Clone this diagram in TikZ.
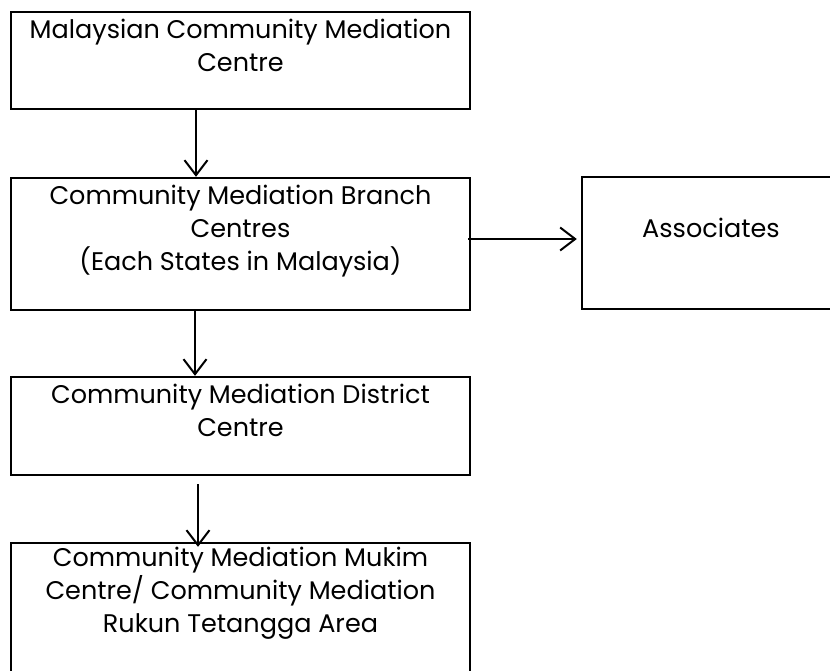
\documentclass[tikz,border=0pt]{standalone}
\usepackage{fontspec}
\setmainfont{Poppins}
\usetikzlibrary{arrows.meta}

\tikzset{
  unit/.style={draw, line width=2.4pt, inner sep=0pt, minimum width=459pt},
  unittext/.style={anchor=north, align=center, inner sep=0pt, font=\fontsize{25.5}{33}\selectfont},
  flow/.style={line width=2pt, -{Straight Barb[length=15pt,width=23pt]}}
}

\begin{document}
\begin{tikzpicture}[x=1pt,y=-1pt]
        \useasboundingbox (0,0) rectangle (830,670);
        % boxes of the hierarchy
        \node[unit, minimum height=97pt] (mcmc) at (240.5,60.5) {};
        \node[unit, minimum height=132pt] (branch) at (240.5,244) {};
        \node[unit, minimum width=258pt, minimum height=132pt] (assoc) at (711,243) {};
        \node[unit, minimum height=98pt] (district) at (240.5,426) {};
        \node[unit, minimum height=147pt] (mukim) at (240.5,616.5) {};
        % texts, hung from the top edge
        \node[unittext] (mcmc-t) at ([yshift=-8pt]mcmc.north)
          {Malaysian Community Mediation\\Centre};
        \node[unittext] (branch-t) at ([yshift=-8pt]branch.north)
          {Community Mediation Branch\\Centres\\(Each States in Malaysia)};
        \node[unittext] (assoc-t) at ([yshift=-42pt]assoc.north) {Associates};
        \node[unittext] (district-t) at ([yshift=-8pt]district.north)
          {Community Mediation District\\Centre};
        \node[unittext] (mukim-t) at ([yshift=-5pt]mukim.north)
          {Community Mediation Mukim\\Centre/ Community Mediation\\Rukun Tetangga Area};
        % arrows
        \draw[flow] ([xshift=-44.5pt]mcmc.south) -- ([xshift=-44.5pt]branch.north);
        \coordinate (side) at ([xshift=-3pt,yshift=5pt]branch.east);
        \draw[flow, shorten >=4pt] (side) -- (side -| assoc.west);
        \draw[flow] ([xshift=-45.5pt]branch.south) -- ([xshift=-45.5pt]district.north);
        \draw[flow] ([xshift=-42.5pt,yshift=-8pt]district.south)
          -- ([xshift=-42.5pt,yshift=-5pt]mukim.north);
      \end{tikzpicture}
\end{document}
